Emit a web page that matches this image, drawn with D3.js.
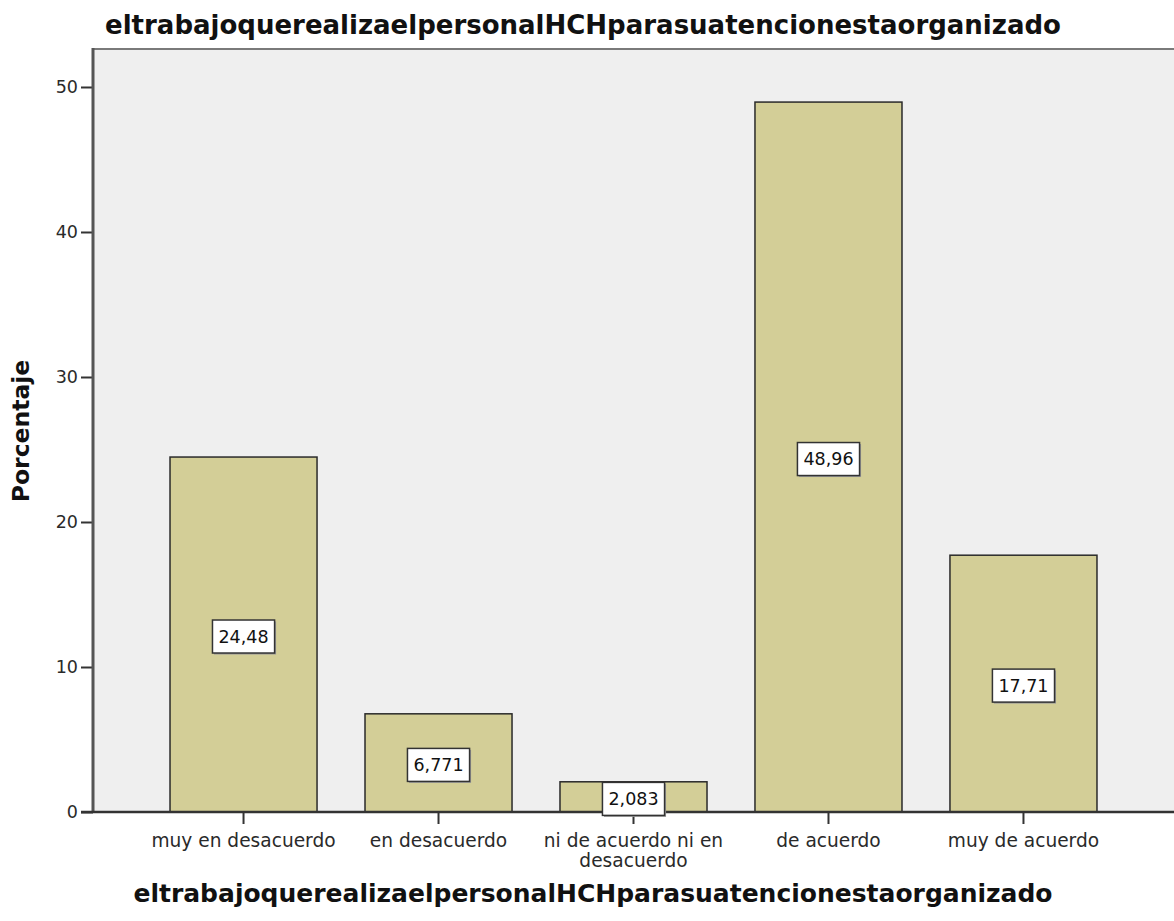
<!DOCTYPE html>
<html>
<head>
<meta charset="utf-8">
<script src="https://cdn.jsdelivr.net/npm/d3@7"></script>
<style>
  html, body { margin: 0; padding: 0; background: #ffffff; }
  svg { display: block; }
</style>
</head>
<body>
<svg id="chart" width="1174" height="921"></svg>
<script>
// Category labels (x axis), percentage per category, printed value labels
const categories = ["muy en desacuerdo", "en desacuerdo", "ni de acuerdo ni en desacuerdo", "de acuerdo", "muy de acuerdo"];
const categoryLines = [["muy en desacuerdo"], ["en desacuerdo"], ["ni de acuerdo ni en", "desacuerdo"], ["de acuerdo"], ["muy de acuerdo"]];
const percentages = [24.48, 6.771, 2.083, 48.96, 17.71];
const valueLabels = ["24,48", "6,771", "2,083", "48,96", "17,71"];
const yTicks = [0, 10, 20, 30, 40, 50];
const titleText = "eltrabajoquerealizaelpersonalHCHparasuatencionestaorganizado";
const yTitle = "Porcentaje";

const FONT = "'DejaVu Sans', sans-serif";
const svg = d3.select("#chart");

const plot = { left: 93, right: 1174, top: 49, bottom: 812 };

const x = d3.scaleBand()
  .domain(categories)
  .range([plot.left, plot.right])
  .paddingInner(0.246)
  .paddingOuter(0.395);

const y = d3.scaleLinear()
  .domain([0, 52.62])
  .range([plot.bottom, plot.top]);

// plot background
svg.append("rect")
  .attr("x", plot.left).attr("y", plot.top)
  .attr("width", plot.right - plot.left).attr("height", plot.bottom - plot.top)
  .attr("fill", "#efefef");

// top frame line
svg.append("line")
  .attr("x1", plot.left).attr("x2", plot.right)
  .attr("y1", plot.top).attr("y2", plot.top)
  .attr("stroke", "#7a7a7a").attr("stroke-width", 2);

// bars
svg.append("g").selectAll("rect")
  .data(percentages)
  .join("rect")
  .attr("x", (d, i) => x(categories[i]))
  .attr("y", d => y(d))
  .attr("width", x.bandwidth())
  .attr("height", d => y(0) - y(d))
  .attr("fill", "#d3ce97")
  .attr("stroke", "#2a2a2a")
  .attr("stroke-width", 1.5);

// y axis
const yAxis = svg.append("g")
  .attr("transform", `translate(${plot.left},0)`)
  .call(d3.axisLeft(y).tickValues(yTicks).tickSize(12).tickPadding(3).tickFormat(d3.format("d")));
yAxis.select(".domain").remove();
yAxis.selectAll(".tick line").attr("stroke", "#333").attr("stroke-width", 2);
yAxis.selectAll(".tick text")
  .attr("font-family", FONT).attr("font-size", 17.5).attr("fill", "#2a2a2a");

svg.append("line")
  .attr("x1", plot.left).attr("x2", plot.left)
  .attr("y1", plot.top - 1).attr("y2", plot.bottom + 1)
  .attr("stroke", "#555").attr("stroke-width", 3);

// x axis
const xAxis = svg.append("g")
  .attr("transform", `translate(0,${plot.bottom})`)
  .call(d3.axisBottom(x).tickSize(12).tickFormat(""));
xAxis.select(".domain").remove();
xAxis.selectAll(".tick line").attr("stroke", "#333").attr("stroke-width", 2);

svg.append("line")
  .attr("x1", plot.left - 12).attr("x2", plot.right)
  .attr("y1", plot.bottom).attr("y2", plot.bottom)
  .attr("stroke", "#333").attr("stroke-width", 2.5);

// category labels
const catG = svg.append("g");
categoryLines.forEach((lines, i) => {
  const cx = x(categories[i]) + x.bandwidth() / 2;
  const t = catG.append("text")
    .attr("x", cx)
    .attr("y", 847)
    .attr("text-anchor", "middle")
    .attr("font-family", FONT).attr("font-size", 18.6).attr("fill", "#2a2a2a");
  lines.forEach((ln, j) => {
    t.append("tspan").attr("x", cx).attr("dy", j === 0 ? 0 : 20).text(ln);
  });
});

// value labels in boxes
const labG = svg.append("g");
percentages.forEach((v, i) => {
  const cx = x(categories[i]) + x.bandwidth() / 2;
  const cy = y(v / 2) + 2;
  const g = labG.append("g");
  const txt = g.append("text")
    .attr("x", cx).attr("y", cy)
    .attr("text-anchor", "middle")
    .attr("dominant-baseline", "central")
    .attr("font-family", FONT).attr("font-size", 17.5).attr("fill", "#111")
    .text(valueLabels[i]);
  const w = txt.node().getComputedTextLength() + 12;
  const h = 33;
  g.insert("rect", "text")
    .attr("x", cx - w / 2 + 1.5).attr("y", cy - h / 2 + 1.5)
    .attr("width", w).attr("height", h)
    .attr("fill", "#9a9a9a");
  g.insert("rect", "text")
    .attr("x", cx - w / 2).attr("y", cy - h / 2)
    .attr("width", w).attr("height", h)
    .attr("fill", "#ffffff").attr("stroke", "#333").attr("stroke-width", 1.5);
});

// titles
svg.append("text")
  .attr("x", 583).attr("y", 34)
  .attr("text-anchor", "middle")
  .attr("font-family", FONT).attr("font-weight", "bold").attr("font-size", 26).attr("fill", "#111")
  .text(titleText);

svg.append("text")
  .attr("x", 593).attr("y", 902)
  .attr("text-anchor", "middle")
  .attr("font-family", FONT).attr("font-weight", "bold").attr("font-size", 25).attr("fill", "#111")
  .text(titleText);

svg.append("text")
  .attr("transform", "translate(29,431) rotate(-90)")
  .attr("text-anchor", "middle")
  .attr("font-family", FONT).attr("font-weight", "bold").attr("font-size", 23.5).attr("fill", "#111")
  .text(yTitle);
</script>
</body>
</html>
